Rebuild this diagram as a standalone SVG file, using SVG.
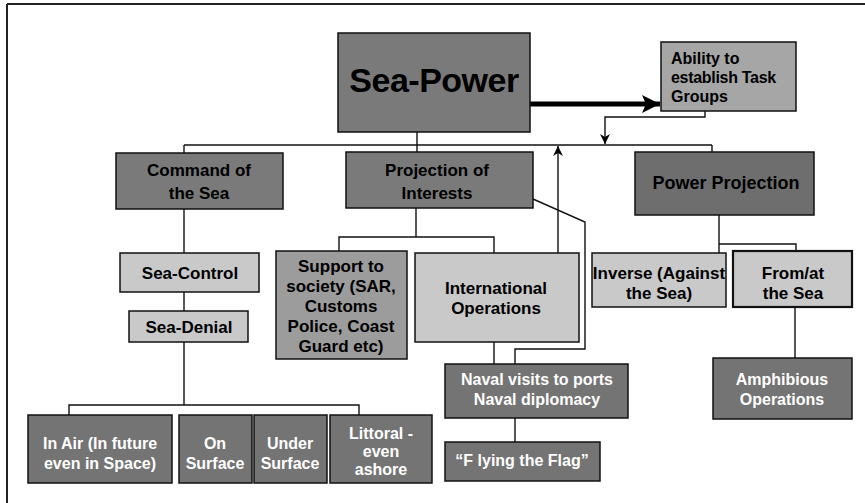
<svg xmlns="http://www.w3.org/2000/svg" width="865" height="503" viewBox="0 0 865 503">
<style>
  .box{stroke:#111;stroke-width:1.5}
  .dark{fill:#7a7a7a}
  .pp{fill:#6e6e6e}
  .mid{fill:#9c9c9c}
  .ab{fill:#a6a6a6}
  .light{fill:#c9c9c9}
  .wdark{fill:#747474}
  text{font-family:"Liberation Sans",Arial,sans-serif;font-weight:bold;text-anchor:middle;fill:#000}
  .t17{font-size:17px}
  .t18{font-size:18px}
  .t16{font-size:16px}
  .w{fill:#fff}
  .ln{fill:none;stroke:#111;stroke-width:1.4}
</style>
<defs>
  <marker id="ah" markerUnits="userSpaceOnUse" markerWidth="12" markerHeight="12" refX="10" refY="5" orient="auto">
    <path d="M0,0 L10,5 L0,10 L3,5 Z" fill="#000"/>
  </marker>
  <marker id="big" markerUnits="userSpaceOnUse" markerWidth="20" markerHeight="20" refX="18" refY="9" orient="auto">
    <path d="M0,0 L18,9 L0,18 L4,9 Z" fill="#000"/>
  </marker>
</defs>
<rect width="865" height="503" fill="#fff"/>
<g id="frame" fill="none" stroke="#222" stroke-width="2">
  <line x1="7" y1="4" x2="865" y2="4"/>
  <line x1="7" y1="4" x2="7" y2="503"/>
</g>
<g id="connectors">
  <line class="ln" x1="417" y1="132" x2="417" y2="152"/>
  <line class="ln" x1="184" y1="145" x2="712" y2="145"/>
  <line class="ln" x1="184" y1="145" x2="184" y2="153"/>
  <line class="ln" x1="712" y1="145" x2="712" y2="152"/>
  <line x1="530" y1="104" x2="660" y2="104" stroke="#000" stroke-width="5" marker-end="url(#big)"/>
  <polyline class="ln" points="705,111 705,117 605,117 605,144" marker-end="url(#ah)"/>
  <line class="ln" x1="558" y1="253" x2="558" y2="146" marker-end="url(#ah)"/>
  <line class="ln" x1="184" y1="209" x2="184" y2="253"/>
  <line class="ln" x1="184" y1="292" x2="184" y2="311"/>
  <polyline class="ln" points="184,342 184,405"/>
  <polyline class="ln" points="69,415 69,405 359,405 359,415"/>
  <line class="ln" x1="416" y1="208" x2="416" y2="237"/>
  <polyline class="ln" points="339,251 339,237 494,237 494,253"/>
  <polyline class="ln" points="533,199 585,222 585,349 515,349 515,364"/>
  <line class="ln" x1="494" y1="342" x2="494" y2="364"/>
  <line class="ln" x1="515" y1="418" x2="515" y2="442"/>
  <line class="ln" x1="719" y1="215" x2="719" y2="253"/>
  <polyline class="ln" points="719,244 796,244 796,251"/>
  <line class="ln" x1="795" y1="307" x2="795" y2="358"/>
</g>
<g id="sea-power">
  <rect class="box dark" x="338" y="33" width="192" height="99"/>
  <text x="434" y="92" style="font-size:34px;letter-spacing:-0.5px">Sea-Power</text>
</g>
<g id="ability">
  <rect class="box ab" x="661" y="42" width="135" height="69"/>
  <text class="t16" x="671" y="64" style="text-anchor:start">Ability to</text>
  <text class="t16" x="671" y="83" style="text-anchor:start;letter-spacing:-0.3px">establish Task</text>
  <text class="t16" x="671" y="102" style="text-anchor:start">Groups</text>
</g>
<g id="command">
  <rect class="box dark" x="116" y="153" width="167" height="56"/>
  <text class="t17" x="199" y="176">Command of</text>
  <text class="t17" x="199" y="199">the Sea</text>
</g>
<g id="projection">
  <rect class="box dark" x="346" y="152" width="187" height="56"/>
  <text class="t17" x="437" y="176">Projection of</text>
  <text class="t17" x="437" y="199">Interests</text>
</g>
<g id="power-projection">
  <rect class="box pp" x="635" y="152" width="179" height="63"/>
  <text class="t18" x="726" y="189">Power Projection</text>
</g>
<g id="sea-control">
  <rect class="box light" x="120" y="253" width="139" height="39"/>
  <text class="t17" x="190" y="279">Sea-Control</text>
</g>
<g id="sea-denial">
  <rect class="box light" x="129" y="311" width="119" height="31"/>
  <text class="t17" x="189" y="333">Sea-Denial</text>
</g>
<g id="support">
  <rect class="box mid" x="276" y="251" width="131" height="108"/>
  <text class="t17" x="341" y="272">Support to</text>
  <text class="t17" x="341" y="292">society (SAR,</text>
  <text class="t17" x="341" y="312">Customs</text>
  <text class="t17" x="341" y="332">Police, Coast</text>
  <text class="t17" x="341" y="352">Guard etc)</text>
</g>
<g id="international">
  <rect class="box light" x="415" y="253" width="164" height="89"/>
  <text class="t17" x="496" y="294">International</text>
  <text class="t17" x="496" y="314">Operations</text>
</g>
<g id="inverse">
  <rect class="box light" x="592" y="253" width="134" height="54"/>
  <text class="t17" x="659" y="279">Inverse (Against</text>
  <text class="t17" x="659" y="299">the Sea)</text>
</g>
<g id="from-at">
  <rect class="box light" x="733" y="251" width="119" height="56" style="stroke-width:2.2"/>
  <text class="t17" x="793" y="279">From/at</text>
  <text class="t17" x="793" y="299">the Sea</text>
</g>
<g id="naval">
  <rect class="box wdark" x="445" y="364" width="183" height="54"/>
  <text class="t16 w" x="537" y="385">Naval visits to ports</text>
  <text class="t16 w" x="537" y="405">Naval diplomacy</text>
</g>
<g id="flag">
  <rect class="box wdark" x="445" y="442" width="155" height="39"/>
  <text class="t16 w" x="522" y="466">“F lying the Flag”</text>
</g>
<g id="amphibious">
  <rect class="box wdark" x="713" y="358" width="139" height="61"/>
  <text class="t16 w" x="782" y="385">Amphibious</text>
  <text class="t16 w" x="782" y="405">Operations</text>
</g>
<g id="in-air">
  <rect class="box wdark" x="28" y="415" width="144" height="68"/>
  <text class="t16 w" x="100" y="449">In Air (In future</text>
  <text class="t16 w" x="100" y="469">even in Space)</text>
</g>
<g id="on-surface">
  <rect class="box wdark" x="179" y="415" width="73" height="68"/>
  <text class="t16 w" x="215" y="449">On</text>
  <text class="t16 w" x="215" y="469">Surface</text>
</g>
<g id="under-surface">
  <rect class="box wdark" x="254" y="415" width="73" height="68"/>
  <text class="t16 w" x="290" y="449">Under</text>
  <text class="t16 w" x="290" y="469">Surface</text>
</g>
<g id="littoral">
  <rect class="box wdark" x="330" y="415" width="102" height="68"/>
  <text class="t16 w" x="381" y="439">Littoral -</text>
  <text class="t16 w" x="381" y="457">even</text>
  <text class="t16 w" x="381" y="475">ashore</text>
</g>
</svg>
